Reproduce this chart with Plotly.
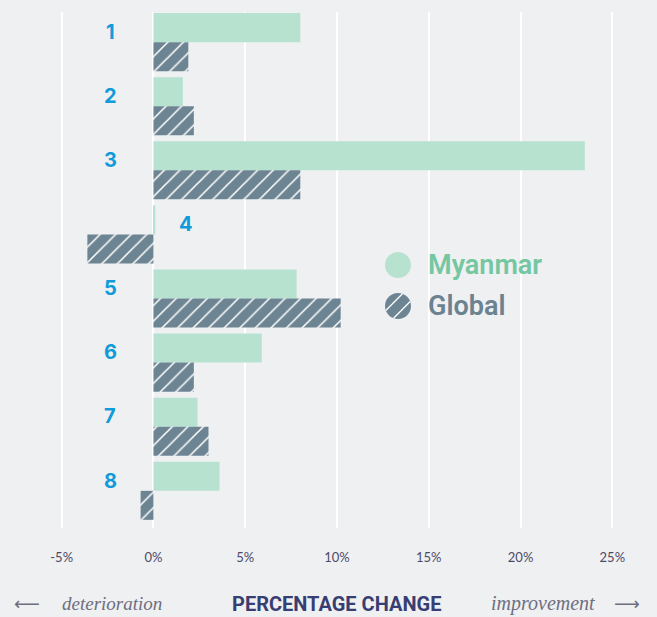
import math
import plotly.graph_objects as go

# Indicator numbers and percentage change per indicator
categories = ["1", "2", "3", "4", "5", "6", "7", "8"]
myanmar = [8.0, 1.6, 23.5, 0.1, 7.8, 5.9, 2.4, 3.6]
global_ = [1.9, 2.2, 8.0, -3.6, 10.2, 2.2, 3.0, -0.7]
tick_vals = [-5, 0, 5, 10, 15, 20, 25]
tick_text = ["-5%", "0%", "5%", "10%", "15%", "20%", "25%"]

BG = "#eff0f2"
GREEN = "#b8e2d0"
SLATE = "#6d8593"
BLUE = "#119bd8"

W, H = 657, 617
ML, MR, MT, MB = 58, 41, 12, 89
PW, PH = W - ML - MR, H - MT - MB

def px(x):
    """pixel x -> paper x"""
    return (x - ML) / PW

def py(y):
    """pixel y (from top) -> paper y"""
    return (H - MB - y) / PH

ypos = list(range(len(categories)))

fig = go.Figure()
fig.add_trace(go.Bar(
    y=ypos, x=myanmar, orientation="h", name="Myanmar",
    marker=dict(color=GREEN, line=dict(width=0)),
))
fig.add_trace(go.Bar(
    y=ypos, x=global_, orientation="h", name="Global",
    marker=dict(
        color=SLATE, line=dict(width=0),
        pattern=dict(shape="/", fgcolor="white", bgcolor=SLATE,
                     size=11, solidity=0.14, fillmode="replace"),
    ),
))

# Indicator number labels, placed beside the Myanmar bar
for i, (cat, g) in enumerate(zip(categories, global_)):
    x = 1.75 if g < -2 else -2.35
    fig.add_annotation(
        x=x, y=i - 0.16, text=f"<b>{cat}</b>", showarrow=False,
        font=dict(family="Inter", size=20, color=BLUE, weight=900),
        xref="x", yref="y",
    )

# Legend drawn as circles with labels
cx, cy1, cy2 = 398, 265, 306
r = 13
fig.add_shape(type="circle", xref="paper", yref="paper",
              xsizemode="pixel", ysizemode="pixel",
              xanchor=px(cx), yanchor=py(cy1),
              x0=-r, x1=r, y0=-r, y1=r,
              fillcolor=GREEN, line=dict(width=0))
fig.add_shape(type="circle", xref="paper", yref="paper",
              xsizemode="pixel", ysizemode="pixel",
              xanchor=px(cx), yanchor=py(cy2),
              x0=-r, x1=r, y0=-r, y1=r,
              fillcolor=SLATE, line=dict(width=0))
# hatch chords across the Global circle
ux, uy = 1 / math.sqrt(2), 1 / math.sqrt(2)
nx, ny = -uy, ux
for off in (-5.5, 5.5):
    half = math.sqrt(max(r * r - off * off, 0))
    fig.add_shape(type="line", xref="paper", yref="paper",
                  xsizemode="pixel", ysizemode="pixel",
                  xanchor=px(cx), yanchor=py(cy2),
                  x0=off * nx - half * ux, y0=off * ny - half * uy,
                  x1=off * nx + half * ux, y1=off * ny + half * uy,
                  line=dict(color="white", width=1.3))

fig.add_annotation(xref="paper", yref="paper", x=px(426), y=py(cy1),
                   xanchor="left", yanchor="middle", showarrow=False,
                   text="Myanmar",
                   font=dict(family="Roboto", size=27, color="#74c7a1", weight=600))
fig.add_annotation(xref="paper", yref="paper", x=px(426), y=py(cy2),
                   xanchor="left", yanchor="middle", showarrow=False,
                   text="Global",
                   font=dict(family="Roboto", size=27, color="#6b8290", weight=600))

# Axis caption row
fig.add_annotation(xref="paper", yref="paper", x=px(336), y=py(604),
                   xanchor="center", yanchor="middle", showarrow=False,
                   text="<b>PERCENTAGE CHANGE</b>",
                   font=dict(family="Roboto", size=20, color="#383d72"))
fig.add_annotation(xref="paper", yref="paper", x=px(60), y=py(603),
                   xanchor="left", yanchor="middle", showarrow=False,
                   text="<i>deterioration</i>",
                   font=dict(family="Liberation Serif", size=19, color="#6e6e7e"))
fig.add_annotation(xref="paper", yref="paper", x=px(597), y=py(603),
                   xanchor="right", yanchor="middle", showarrow=False,
                   text="<i>improvement</i>",
                   font=dict(family="Liberation Serif", size=20, color="#6e6e7e"))
fig.add_annotation(xref="paper", yref="paper", x=px(27), y=py(603),
                   xanchor="center", yanchor="middle", showarrow=False,
                   text="\u27f5",
                   font=dict(family="DejaVu Sans", size=18, color="#6e6e7e"))
fig.add_annotation(xref="paper", yref="paper", x=px(627), y=py(603),
                   xanchor="center", yanchor="middle", showarrow=False,
                   text="\u27f6",
                   font=dict(family="DejaVu Sans", size=18, color="#6e6e7e"))

fig.update_layout(
    width=W, height=H,
    margin=dict(l=ML, r=MR, t=MT, b=MB),
    paper_bgcolor=BG, plot_bgcolor=BG,
    barmode="group", bargap=0.095, bargroupgap=0,
    showlegend=False,
    xaxis=dict(
        range=[-5.2, 25.2], tickvals=tick_vals, ticktext=tick_text,
        showgrid=True, gridcolor="white", gridwidth=1.5,
        zeroline=True, zerolinecolor="white", zerolinewidth=1.5,
        showline=False, ticks="outside", ticklen=17, tickcolor="rgba(0,0,0,0)",
        tickfont=dict(family="Lato", size=13, color="#4d4a66"),
    ),
    yaxis=dict(
        range=[7.58, -0.47], showgrid=False, zeroline=False,
        showticklabels=False, showline=False,
    ),
)

fig.write_html("out.html")
